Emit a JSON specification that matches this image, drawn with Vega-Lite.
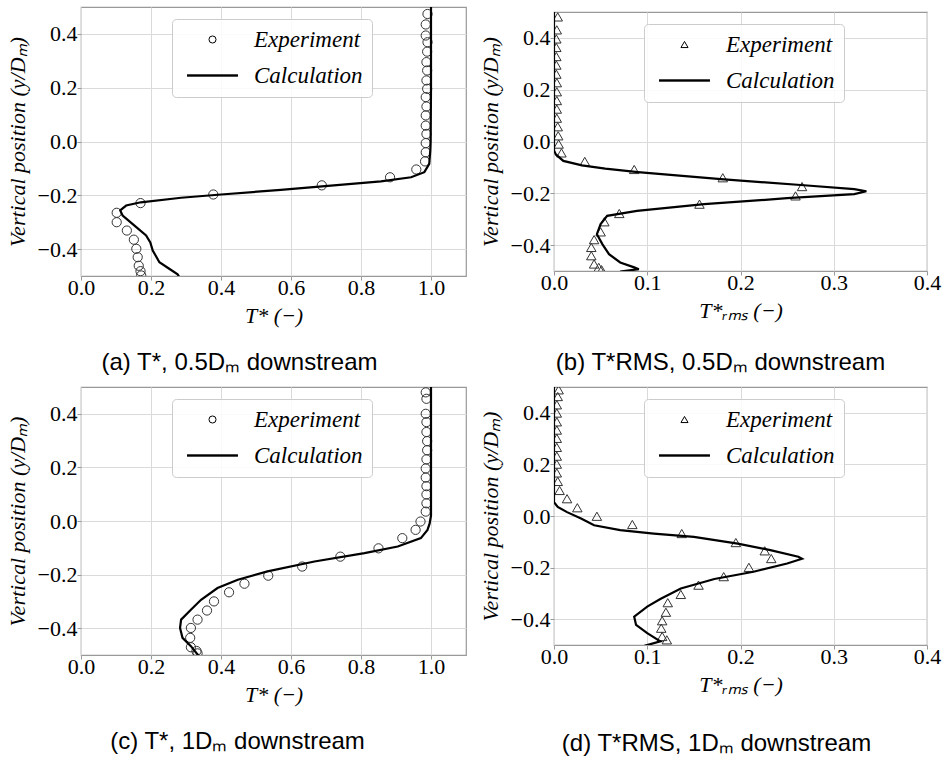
{
  "$schema": "https://vega.github.io/schema/vega-lite/v6.json",
  "background": "white",
  "autosize": {"type": "pad"},
  "padding": {"left": 5, "top": 6, "right": 0, "bottom": 0},
  "config": {
    "view": {"stroke": "#999999", "strokeWidth": 1.2},
    "axis": {"domain": false, "grid": true, "gridColor": "#dadada", "gridWidth": 1, "tickColor": "#999999", "tickSize": 4, "labelFont": "Liberation Serif", "labelFontSize": 22, "labelColor": "black", "labelPadding": 0, "labelFlush": false, "labelOverlap": false, "titleFont": "Liberation Serif", "titleFontSize": 22, "titleFontStyle": "italic", "titleFontWeight": "normal", "titleColor": "black"},
    "axisX": {"titlePadding": 7, "labelPadding": -3},
    "axisY": {"titlePadding": 8},
    "title": {"font": "Liberation Sans", "fontSize": 24, "fontWeight": "normal", "color": "black"},
    "legend": {"orient": "none", "title": null, "padding": 9, "strokeColor": "#cccccc", "fillColor": "rgba(255,255,255,0.85)", "cornerRadius": 4, "labelFont": "Liberation Serif", "labelFontStyle": "italic", "labelFontSize": 23, "labelColor": "black", "labelOffset": 30, "symbolOffset": 20, "rowPadding": 12, "labelLimit": 300, "symbolStrokeColor": "black", "symbolFillColor": "transparent", "symbolStrokeWidth": 1, "symbolSize": 50, "symbolOpacity": 1}
  },
  "datasets": {
    "a_exp": [
      {"x": 0.990, "y": 0.474}, {"x": 0.985, "y": 0.435}, {"x": 0.985, "y": 0.394}, {"x": 0.990, "y": 0.369}, {"x": 0.989, "y": 0.334}, {"x": 0.987, "y": 0.295}, {"x": 0.989, "y": 0.264}, {"x": 0.987, "y": 0.227}, {"x": 0.989, "y": 0.196}, {"x": 0.985, "y": 0.165}, {"x": 0.987, "y": 0.130}, {"x": 0.985, "y": 0.097}, {"x": 0.985, "y": 0.059}, {"x": 0.987, "y": 0.028}, {"x": 0.985, "y": -0.006}, {"x": 0.985, "y": -0.040}, {"x": 0.983, "y": -0.074}, {"x": 0.958, "y": -0.104}, {"x": 0.883, "y": -0.133}, {"x": 0.688, "y": -0.163}, {"x": 0.378, "y": -0.197}, {"x": 0.170, "y": -0.229}, {"x": 0.102, "y": -0.265}, {"x": 0.102, "y": -0.300}, {"x": 0.131, "y": -0.331}, {"x": 0.151, "y": -0.365}, {"x": 0.158, "y": -0.399}, {"x": 0.162, "y": -0.430}, {"x": 0.165, "y": -0.462}, {"x": 0.170, "y": -0.482}, {"x": 0.172, "y": -0.498}
    ],
    "a_calc": [
      {"x": 1.0, "y": 0.5}, {"x": 1.0, "y": 0.2}, {"x": 0.999, "y": 0.0}, {"x": 0.998, "y": -0.033}, {"x": 0.995, "y": -0.083}, {"x": 0.981, "y": -0.114}, {"x": 0.943, "y": -0.133}, {"x": 0.857, "y": -0.148}, {"x": 0.714, "y": -0.164}, {"x": 0.571, "y": -0.180}, {"x": 0.4, "y": -0.197}, {"x": 0.286, "y": -0.209}, {"x": 0.171, "y": -0.226}, {"x": 0.129, "y": -0.238}, {"x": 0.112, "y": -0.256}, {"x": 0.119, "y": -0.275}, {"x": 0.152, "y": -0.312}, {"x": 0.186, "y": -0.349}, {"x": 0.198, "y": -0.375}, {"x": 0.205, "y": -0.405}, {"x": 0.224, "y": -0.449}, {"x": 0.252, "y": -0.473}, {"x": 0.276, "y": -0.494}, {"x": 0.28, "y": -0.502}
    ],
    "b_exp": [
      {"x": 0.004, "y": 0.481}, {"x": 0.003, "y": 0.431}, {"x": 0.0025, "y": 0.396}, {"x": 0.0025, "y": 0.363}, {"x": 0.0025, "y": 0.328}, {"x": 0.0025, "y": 0.295}, {"x": 0.0025, "y": 0.260}, {"x": 0.003, "y": 0.227}, {"x": 0.003, "y": 0.192}, {"x": 0.003, "y": 0.158}, {"x": 0.003, "y": 0.125}, {"x": 0.003, "y": 0.090}, {"x": 0.004, "y": 0.057}, {"x": 0.0045, "y": 0.022}, {"x": 0.005, "y": -0.010}, {"x": 0.008, "y": -0.044}, {"x": 0.033, "y": -0.077}, {"x": 0.086, "y": -0.108}, {"x": 0.181, "y": -0.140}, {"x": 0.266, "y": -0.174}, {"x": 0.259, "y": -0.210}, {"x": 0.156, "y": -0.242}, {"x": 0.070, "y": -0.278}, {"x": 0.054, "y": -0.310}, {"x": 0.050, "y": -0.349}, {"x": 0.043, "y": -0.379}, {"x": 0.040, "y": -0.409}, {"x": 0.040, "y": -0.441}, {"x": 0.043, "y": -0.473}, {"x": 0.048, "y": -0.486}, {"x": 0.051, "y": -0.495}
    ],
    "b_calc": [
      {"x": 0.0, "y": 0.5}, {"x": 0.0, "y": 0.0}, {"x": 0.0, "y": -0.035}, {"x": 0.002, "y": -0.05}, {"x": 0.01, "y": -0.075}, {"x": 0.03, "y": -0.092}, {"x": 0.055, "y": -0.105}, {"x": 0.09, "y": -0.118}, {"x": 0.179, "y": -0.145}, {"x": 0.268, "y": -0.169}, {"x": 0.322, "y": -0.184}, {"x": 0.335, "y": -0.192}, {"x": 0.322, "y": -0.203}, {"x": 0.250, "y": -0.219}, {"x": 0.161, "y": -0.242}, {"x": 0.089, "y": -0.268}, {"x": 0.057, "y": -0.287}, {"x": 0.050, "y": -0.319}, {"x": 0.046, "y": -0.358}, {"x": 0.052, "y": -0.397}, {"x": 0.059, "y": -0.435}, {"x": 0.071, "y": -0.467}, {"x": 0.086, "y": -0.486}, {"x": 0.091, "y": -0.493}, {"x": 0.071, "y": -0.502}
    ],
    "c_exp": [
      {"x": 0.985, "y": 0.480}, {"x": 0.987, "y": 0.456}, {"x": 0.985, "y": 0.400}, {"x": 0.987, "y": 0.369}, {"x": 0.987, "y": 0.332}, {"x": 0.989, "y": 0.298}, {"x": 0.989, "y": 0.264}, {"x": 0.987, "y": 0.230}, {"x": 0.985, "y": 0.196}, {"x": 0.985, "y": 0.162}, {"x": 0.987, "y": 0.130}, {"x": 0.987, "y": 0.099}, {"x": 0.987, "y": 0.066}, {"x": 0.985, "y": 0.035}, {"x": 0.970, "y": -0.002}, {"x": 0.956, "y": -0.033}, {"x": 0.918, "y": -0.064}, {"x": 0.850, "y": -0.102}, {"x": 0.741, "y": -0.133}, {"x": 0.632, "y": -0.170}, {"x": 0.535, "y": -0.204}, {"x": 0.467, "y": -0.234}, {"x": 0.423, "y": -0.266}, {"x": 0.380, "y": -0.300}, {"x": 0.360, "y": -0.334}, {"x": 0.333, "y": -0.368}, {"x": 0.314, "y": -0.399}, {"x": 0.312, "y": -0.436}, {"x": 0.314, "y": -0.471}, {"x": 0.330, "y": -0.485}, {"x": 0.333, "y": -0.494}
    ],
    "c_calc": [
      {"x": 1.0, "y": 0.5}, {"x": 1.0, "y": 0.02}, {"x": 0.996, "y": -0.01}, {"x": 0.990, "y": -0.033}, {"x": 0.971, "y": -0.064}, {"x": 0.905, "y": -0.095}, {"x": 0.810, "y": -0.120}, {"x": 0.667, "y": -0.151}, {"x": 0.533, "y": -0.188}, {"x": 0.448, "y": -0.219}, {"x": 0.390, "y": -0.250}, {"x": 0.343, "y": -0.294}, {"x": 0.314, "y": -0.331}, {"x": 0.286, "y": -0.368}, {"x": 0.283, "y": -0.399}, {"x": 0.290, "y": -0.436}, {"x": 0.314, "y": -0.467}, {"x": 0.333, "y": -0.498}, {"x": 0.336, "y": -0.503}
    ],
    "d_exp": [
      {"x": 0.005, "y": 0.489}, {"x": 0.004, "y": 0.463}, {"x": 0.003, "y": 0.431}, {"x": 0.003, "y": 0.399}, {"x": 0.003, "y": 0.365}, {"x": 0.003, "y": 0.333}, {"x": 0.003, "y": 0.301}, {"x": 0.003, "y": 0.266}, {"x": 0.003, "y": 0.232}, {"x": 0.003, "y": 0.201}, {"x": 0.003, "y": 0.167}, {"x": 0.004, "y": 0.134}, {"x": 0.006, "y": 0.099}, {"x": 0.014, "y": 0.067}, {"x": 0.025, "y": 0.032}, {"x": 0.046, "y": -0.001}, {"x": 0.084, "y": -0.033}, {"x": 0.137, "y": -0.068}, {"x": 0.195, "y": -0.103}, {"x": 0.226, "y": -0.135}, {"x": 0.233, "y": -0.165}, {"x": 0.209, "y": -0.199}, {"x": 0.182, "y": -0.235}, {"x": 0.155, "y": -0.268}, {"x": 0.136, "y": -0.304}, {"x": 0.122, "y": -0.336}, {"x": 0.120, "y": -0.373}, {"x": 0.116, "y": -0.406}, {"x": 0.115, "y": -0.435}, {"x": 0.116, "y": -0.467}, {"x": 0.121, "y": -0.480}
    ],
    "d_calc": [
      {"x": 0.0, "y": 0.5}, {"x": 0.0, "y": 0.054}, {"x": 0.004, "y": 0.035}, {"x": 0.014, "y": 0.015}, {"x": 0.029, "y": -0.010}, {"x": 0.043, "y": -0.036}, {"x": 0.071, "y": -0.055}, {"x": 0.107, "y": -0.068}, {"x": 0.150, "y": -0.081}, {"x": 0.197, "y": -0.107}, {"x": 0.232, "y": -0.132}, {"x": 0.262, "y": -0.158}, {"x": 0.266, "y": -0.166}, {"x": 0.250, "y": -0.184}, {"x": 0.214, "y": -0.216}, {"x": 0.172, "y": -0.244}, {"x": 0.136, "y": -0.281}, {"x": 0.114, "y": -0.322}, {"x": 0.100, "y": -0.351}, {"x": 0.086, "y": -0.390}, {"x": 0.088, "y": -0.422}, {"x": 0.100, "y": -0.454}, {"x": 0.114, "y": -0.486}, {"x": 0.097, "y": -0.503}
    ]
  },
  "columns": 2,
  "spacing": {"row": 111, "column": 88},
  "bounds": "flush",
  "center": true,
  "concat": [
    {
      "width": 385, "height": 269,
      "title": {"text": "(a) T*, 0.5Dₘ downstream", "orient": "bottom", "dx": -34, "offset": 25},
      "layer": [
        {
          "data": {"name": "a_exp"},
          "mark": {"type": "point", "filled": false, "color": "#333333", "opacity": 1, "size": 85, "strokeWidth": 1, "clip": true},
          "encoding": {
            "x": {"field": "x", "type": "quantitative", "scale": {"domain": [0, 1.1], "nice": false, "zero": false}, "axis": {"values": [0, 0.2, 0.4, 0.6, 0.8, 1.0], "format": ".1f", "title": "T*  (−)"}},
            "y": {"field": "y", "type": "quantitative", "scale": {"domain": [-0.5, 0.5], "nice": false, "zero": false}, "axis": {"values": [-0.4, -0.2, 0, 0.2, 0.4], "format": ".1f", "title": "Vertical position (y/Dₘ)"}},
            "shape": {"datum": "Experiment", "type": "nominal", "scale": {"domain": ["Experiment", "Calculation"], "range": ["circle", "M-7.2,-0.2H7.2M-7.2,0H7.2M-7.2,0.2H7.2"]},
              "legend": {"legendX": 91, "legendY": 12}}
          }
        },
        {
          "data": {"name": "a_calc"},
          "mark": {"type": "line", "color": "black", "strokeWidth": 2.2, "clip": true},
          "encoding": {
            "x": {"field": "x", "type": "quantitative"},
            "y": {"field": "y", "type": "quantitative"},
            "order": {"field": "y", "type": "quantitative", "sort": "descending"}
          }
        }
      ]
    },
    {
      "width": 373, "height": 259,
      "title": {"text": "(b) T*RMS, 0.5Dₘ downstream", "orient": "bottom", "dx": -20, "offset": 30},
      "layer": [
        {
          "data": {"name": "b_exp"},
          "mark": {"type": "point", "filled": false, "color": "#333333", "opacity": 1, "size": 90, "strokeWidth": 1, "clip": true},
          "encoding": {
            "x": {"field": "x", "type": "quantitative", "scale": {"domain": [0, 0.4], "nice": false, "zero": false}, "axis": {"values": [0, 0.1, 0.2, 0.3, 0.4], "format": ".1f", "title": "T*ᵣₘₛ (−)"}},
            "y": {"field": "y", "type": "quantitative", "scale": {"domain": [-0.5, 0.5], "nice": false, "zero": false}, "axis": {"values": [-0.4, -0.2, 0, 0.2, 0.4], "format": ".1f", "title": "Vertical position (y/Dₘ)"}},
            "shape": {"datum": "Experiment", "type": "nominal", "scale": {"domain": ["Experiment", "Calculation"], "range": ["triangle-up", "M-7.2,-0.2H7.2M-7.2,0H7.2M-7.2,0.2H7.2"]},
              "legend": {"legendX": 90, "legendY": 12}}
          }
        },
        {
          "data": {"name": "b_calc"},
          "mark": {"type": "line", "color": "black", "strokeWidth": 2.2, "clip": true},
          "encoding": {
            "x": {"field": "x", "type": "quantitative"},
            "y": {"field": "y", "type": "quantitative"},
            "order": {"field": "y", "type": "quantitative", "sort": "descending"}
          }
        }
      ]
    },
    {
      "width": 385, "height": 268,
      "title": {"text": "(c) T*, 1Dₘ downstream", "orient": "bottom", "dx": -36, "offset": 25},
      "layer": [
        {
          "data": {"name": "c_exp"},
          "mark": {"type": "point", "filled": false, "color": "#333333", "opacity": 1, "size": 85, "strokeWidth": 1, "clip": true},
          "encoding": {
            "x": {"field": "x", "type": "quantitative", "scale": {"domain": [0, 1.1], "nice": false, "zero": false}, "axis": {"values": [0, 0.2, 0.4, 0.6, 0.8, 1.0], "format": ".1f", "title": "T*  (−)"}},
            "y": {"field": "y", "type": "quantitative", "scale": {"domain": [-0.5, 0.5], "nice": false, "zero": false}, "axis": {"values": [-0.4, -0.2, 0, 0.2, 0.4], "format": ".1f", "title": "Vertical position (y/Dₘ)"}},
            "shape": {"datum": "Experiment", "type": "nominal", "scale": {"domain": ["Experiment", "Calculation"], "range": ["circle", "M-7.2,-0.2H7.2M-7.2,0H7.2M-7.2,0.2H7.2"]},
              "legend": {"legendX": 91, "legendY": 12}}
          }
        },
        {
          "data": {"name": "c_calc"},
          "mark": {"type": "line", "color": "black", "strokeWidth": 2.2, "clip": true},
          "encoding": {
            "x": {"field": "x", "type": "quantitative"},
            "y": {"field": "y", "type": "quantitative"},
            "order": {"field": "y", "type": "quantitative", "sort": "descending"}
          }
        }
      ]
    },
    {
      "width": 373, "height": 258,
      "title": {"text": "(d) T*RMS, 1Dₘ downstream", "orient": "bottom", "dx": -24, "offset": 37},
      "layer": [
        {
          "data": {"name": "d_exp"},
          "mark": {"type": "point", "filled": false, "color": "#333333", "opacity": 1, "size": 90, "strokeWidth": 1, "clip": true},
          "encoding": {
            "x": {"field": "x", "type": "quantitative", "scale": {"domain": [0, 0.4], "nice": false, "zero": false}, "axis": {"values": [0, 0.1, 0.2, 0.3, 0.4], "format": ".1f", "title": "T*ᵣₘₛ (−)"}},
            "y": {"field": "y", "type": "quantitative", "scale": {"domain": [-0.5, 0.5], "nice": false, "zero": false}, "axis": {"values": [-0.4, -0.2, 0, 0.2, 0.4], "format": ".1f", "title": "Vertical position (y/Dₘ)"}},
            "shape": {"datum": "Experiment", "type": "nominal", "scale": {"domain": ["Experiment", "Calculation"], "range": ["triangle-up", "M-7.2,-0.2H7.2M-7.2,0H7.2M-7.2,0.2H7.2"]},
              "legend": {"legendX": 90, "legendY": 12}}
          }
        },
        {
          "data": {"name": "d_calc"},
          "mark": {"type": "line", "color": "black", "strokeWidth": 2.2, "clip": true},
          "encoding": {
            "x": {"field": "x", "type": "quantitative"},
            "y": {"field": "y", "type": "quantitative"},
            "order": {"field": "y", "type": "quantitative", "sort": "descending"}
          }
        }
      ]
    }
  ],
  "resolve": {"scale": {"shape": "independent", "x": "independent", "y": "independent"}, "legend": {"shape": "independent"}}
}
